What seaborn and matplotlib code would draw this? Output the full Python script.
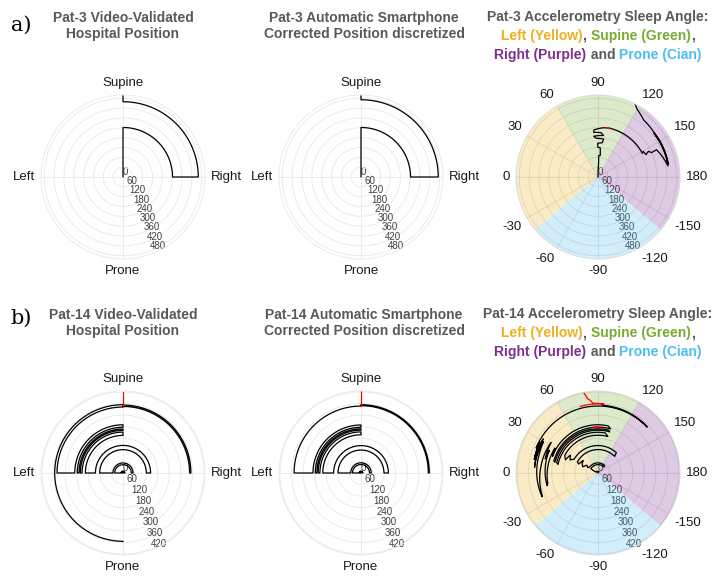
import numpy as np
import matplotlib.pyplot as plt
import seaborn as sns
from matplotlib.offsetbox import TextArea, HPacker, VPacker, AnnotationBbox

sns.set_theme(style='white')
plt.rcParams['font.family'] = ['Liberation Sans', 'DejaVu Sans']

# angle (deg) of every discrete position
POS_ANGLE = {'Right': 0, 'Supine': 90, 'Left': 180, 'Prone': 270}

# ---------------- Pat-3 (minutes) ----------------
p3_rmax = 500
p3_rticks = [0, 60, 120, 180, 240, 300, 360, 420, 480]

p3_video_pos = ['Supine', 'Right', 'Supine']
p3_video_t = [0, 302, 459, 497]
p3_video_red_t = [297, 302]

p3_phone_pos = ['Supine', 'Right', 'Supine']
p3_phone_t = [0, 302, 471, 497]

p3_acc_ang = [90, 92.5, 92, 96, 94.5, 89.5, 89.5, 97, 98.5, 87.5, 84, 97.5, 94, 84.5, 85, 94.5,
              98.5, 104, 152, 150.5, 155, 153, 155.5, 155, 171, 142, 170, 141, 129, 124, 120, 117]
p3_acc_t = [0, 91, 131, 132, 178, 182, 206, 210, 234, 236, 250, 255, 271, 273, 288, 300,
            304, 306, 307, 317, 323, 345, 359, 394, 432, 433, 436, 437, 445, 462, 477, 499]
p3_acc_red_ang = [98.5, 104]
p3_acc_red_t = [304, 306]

# ---------------- Pat-14 (minutes) ----------------
p14_rmax = 425
p14_rticks = [0, 60, 120, 180, 240, 300, 360, 420]

p14_video_pos = ['Left', 'Right', 'Left', 'Right', 'Left', 'Right', 'Left', 'Supine', 'Left',
                 'Supine', 'Left', 'Supine', 'Left', 'Supine', 'Right', 'Supine', 'Prone']
p14_video_t = [0, 6, 10, 43, 52, 121, 143, 195, 212, 221, 228, 237, 250, 342, 345, 352, 354, 356]
p14_video_red_t = [342, 420]

p14_phone_pos = ['Left', 'Right', 'Left', 'Right', 'Left', 'Right', 'Left', 'Supine', 'Left',
                 'Supine', 'Left', 'Supine', 'Left', 'Supine', 'Right', 'Supine']
p14_phone_t = [0, 6, 10, 44, 53, 119, 142, 198, 213, 222, 229, 237, 249, 347, 349, 354, 356]
p14_phone_red_t = [347, 423]

p14_acc_ang = [25, 130, 130, 25, 28, 32, 135, 132, 35, 28, 35, 22, 30, 40, 25, 28, 135, 132,
               30, 25, 33, 22, 28, 105, 100, 12, 14, 106, 104, 14, 15, 106, 102, 20, 30, -12,
               -14, 25, 15, 33, 8, -22, -23, 20, 30, 5, 32, 12, 28, 22, 137, 137, 95, 93]
p14_acc_t = [0, 4, 8, 10, 30, 43, 44, 52, 53, 60, 70, 85, 95, 100, 110, 121, 122, 142,
             143, 160, 170, 182, 195, 196, 211, 212, 221, 222, 229, 230, 237, 238, 250, 251, 258, 266,
             272, 278, 283, 290, 297, 312, 315, 320, 326, 330, 334, 338, 342, 346, 348, 350, 352, 356]
p14_acc_red1_ang = [84, 95]
p14_acc_red1_t = [237.8, 237.9]
p14_acc_red2_ang = [75, 86, 95, 86, 84, 82, 81, 80]
p14_acc_red2_t = [357, 358, 359, 362, 378, 389, 405, 423]

# accelerometry sectors (deg, 0 = left, clockwise)
sector_start = [-40, 60, 120, 220]
sector_end = [60, 120, 220, 320]
sector_color = ['#EDB120', '#77AC30', '#7E2F8E', '#4DBEEE']

acc_tick_deg = [0, 30, 60, 90, 120, 150, 180, 210, 240, 270, 300, 330]
acc_tick_lab = ['0', '30', '60', '90', '120', '150', '180', '-150', '-120', '-90', '-60', '-30']

GRAY = '#595959'


def polar_curve(ang_deg, t, step=2.0):
    # split segments so that lines are drawn curved in polar space
    th, rr = [ang_deg[0]], [t[0]]
    for a0, a1, r0, r1 in zip(ang_deg[:-1], ang_deg[1:], t[:-1], t[1:]):
        n = int(max(1, np.ceil(abs(a1 - a0) / step)))
        th.extend(np.linspace(a0, a1, n + 1)[1:])
        rr.extend(np.linspace(r0, r1, n + 1)[1:])
    return np.deg2rad(th), np.array(rr)


def position_path(pos, t):
    ang, rr = [], []
    for i, p in enumerate(pos):
        ang += [POS_ANGLE[p], POS_ANGLE[p]]
        rr += [t[i], t[i + 1]]
    return polar_curve(ang, rr)


def draw(ax, th, r, color='black', lw=0.9):
    sns.lineplot(x=th, y=r, sort=False, estimator=None, color=color, lw=lw, ax=ax)
    ax.set_xlabel('')
    ax.set_ylabel('')


def ring_labels(ax, deg, labels, rmax, fontsize=9.5):
    # angular labels placed just outside the circle, aligned by side
    ax.set_xticks(np.deg2rad(deg))
    ax.set_xticklabels([])
    for d, lab in zip(deg, labels):
        scr = ax.get_theta_offset() + ax.get_theta_direction() * np.deg2rad(d)
        c, s = np.cos(scr), np.sin(scr)
        ha = 'left' if c > 0.2 else ('right' if c < -0.2 else 'center')
        va = 'bottom' if s > 0.2 else ('top' if s < -0.2 else 'center')
        ax.text(np.deg2rad(d), rmax * 1.07, lab, ha=ha, va=va, fontsize=fontsize,
                color='#1a1a1a', clip_on=False)


def style_radial(ax, rmax, rticks, rlabel_pos):
    ax.set_ylim(0, rmax)
    ax.set_yticks(rticks)
    ax.set_yticklabels([str(v) for v in rticks], fontsize=7, color='#404040')
    ax.set_rlabel_position(rlabel_pos)


def position_axes(rect, pos, t, red_t, rmax, rticks):
    ax = fig.add_axes(rect, projection='polar')
    ax.set_theta_zero_location('E')
    ax.set_theta_direction(1)
    th, r = position_path(pos, t)
    draw(ax, th, r)
    if red_t is not None:
        draw(ax, np.deg2rad([90, 90]), np.array(red_t), color='red')
    ring_labels(ax, list(POS_ANGLE.values()), list(POS_ANGLE.keys()), rmax)
    style_radial(ax, rmax, rticks, -70)
    ax.grid(True, color='#E8E8E8', lw=0.6)
    ax.spines['polar'].set_color('#E8E8E8')
    ax.spines['polar'].set_linewidth(0.6)
    return ax


def accel_axes(rect, ang, t, reds, rmax, rticks):
    ax = fig.add_axes(rect, projection='polar')
    ax.set_theta_zero_location('W')
    ax.set_theta_direction(-1)
    centers = [(s + e) / 2 for s, e in zip(sector_start, sector_end)]
    widths = [e - s for s, e in zip(sector_start, sector_end)]
    ax.bar(np.deg2rad(centers), rmax, width=np.deg2rad(widths), bottom=0,
           color=sector_color, alpha=0.25, edgecolor='none', align='center')
    th, r = polar_curve(ang, t)
    draw(ax, th, r)
    for ra, rt in reds:
        th, r = polar_curve(ra, rt)
        draw(ax, th, r, color='red')
    ring_labels(ax, acc_tick_deg, acc_tick_lab, rmax)
    style_radial(ax, rmax, rticks, 250)
    ax.grid(True, color='#BDBDBD', lw=0.6, alpha=0.45)
    ax.spines['polar'].set_color('#D8D8D8')
    ax.spines['polar'].set_linewidth(0.6)
    return ax


def accel_title(x, y, patient):
    tp = dict(fontsize=10, fontweight='bold')
    line1 = TextArea(f'Pat-{patient} Accelerometry Sleep Angle:', textprops=dict(color=GRAY, **tp))
    line2 = HPacker(children=[TextArea('Left (Yellow)', textprops=dict(color=sector_color[0], **tp)),
                              TextArea(', ', textprops=dict(color=GRAY, **tp)),
                              TextArea('Supine (Green)', textprops=dict(color=sector_color[1], **tp)),
                              TextArea(',', textprops=dict(color=GRAY, **tp))],
                    align='baseline', pad=0, sep=0)
    line3 = HPacker(children=[TextArea('Right (Purple)', textprops=dict(color=sector_color[2], **tp)),
                              TextArea(' and ', textprops=dict(color=GRAY, **tp)),
                              TextArea('Prone (Cian)', textprops=dict(color=sector_color[3], **tp))],
                    align='baseline', pad=0, sep=0)
    box = VPacker(children=[line1, line2, line3], align='center', pad=0, sep=3.5)
    fig.add_artist(AnnotationBbox(box, (x, y), xycoords='figure fraction', frameon=False,
                                  box_alignment=(0.5, 0.5)))


W, H = 723, 581
fig = plt.figure(figsize=(W / 100, H / 100), dpi=100)

R = 82
cx = [123, 361, 598]
cy = [177, 473]


def rect(x, y):
    return [(x - R) / W, 1 - (y + R) / H, 2 * R / W, 2 * R / H]


position_axes(rect(cx[0], cy[0]), p3_video_pos, p3_video_t, p3_video_red_t, p3_rmax, p3_rticks)
position_axes(rect(cx[1], cy[0]), p3_phone_pos, p3_phone_t, None, p3_rmax, p3_rticks)
accel_axes(rect(cx[2], cy[0]), p3_acc_ang, p3_acc_t, [(p3_acc_red_ang, p3_acc_red_t)],
           p3_rmax, p3_rticks)

position_axes(rect(cx[0], cy[1]), p14_video_pos, p14_video_t, p14_video_red_t, p14_rmax, p14_rticks)
position_axes(rect(cx[1], cy[1]), p14_phone_pos, p14_phone_t, p14_phone_red_t, p14_rmax, p14_rticks)
accel_axes(rect(cx[2], cy[1]), p14_acc_ang, p14_acc_t,
           [(p14_acc_red1_ang, p14_acc_red1_t), (p14_acc_red2_ang, p14_acc_red2_t)],
           p14_rmax, p14_rticks)

# titles
tkw = dict(ha='center', va='center', fontsize=10, fontweight='bold', color=GRAY, linespacing=1.25)
fig.text(cx[0] / W, 1 - 26 / H, 'Pat-3 Video-Validated\nHospital Position', **tkw)
fig.text(364 / W, 1 - 26 / H, 'Pat-3 Automatic Smartphone\nCorrected Position discretized', **tkw)
accel_title(cx[2] / W, 1 - 36 / H, 3)

fig.text(cx[0] / W, 1 - 323 / H, 'Pat-14 Video-Validated\nHospital Position', **tkw)
fig.text(364 / W, 1 - 323 / H, 'Pat-14 Automatic Smartphone\nCorrected Position discretized', **tkw)
accel_title(cx[2] / W, 1 - 333 / H, 14)

fig.text(21 / W, 1 - 25 / H, 'a)', ha='center', va='center', fontsize=15,
         family='DejaVu Serif', color='black')
fig.text(21 / W, 1 - 318 / H, 'b)', ha='center', va='center', fontsize=15,
         family='DejaVu Serif', color='black')

fig.savefig('out.png', dpi=100)
